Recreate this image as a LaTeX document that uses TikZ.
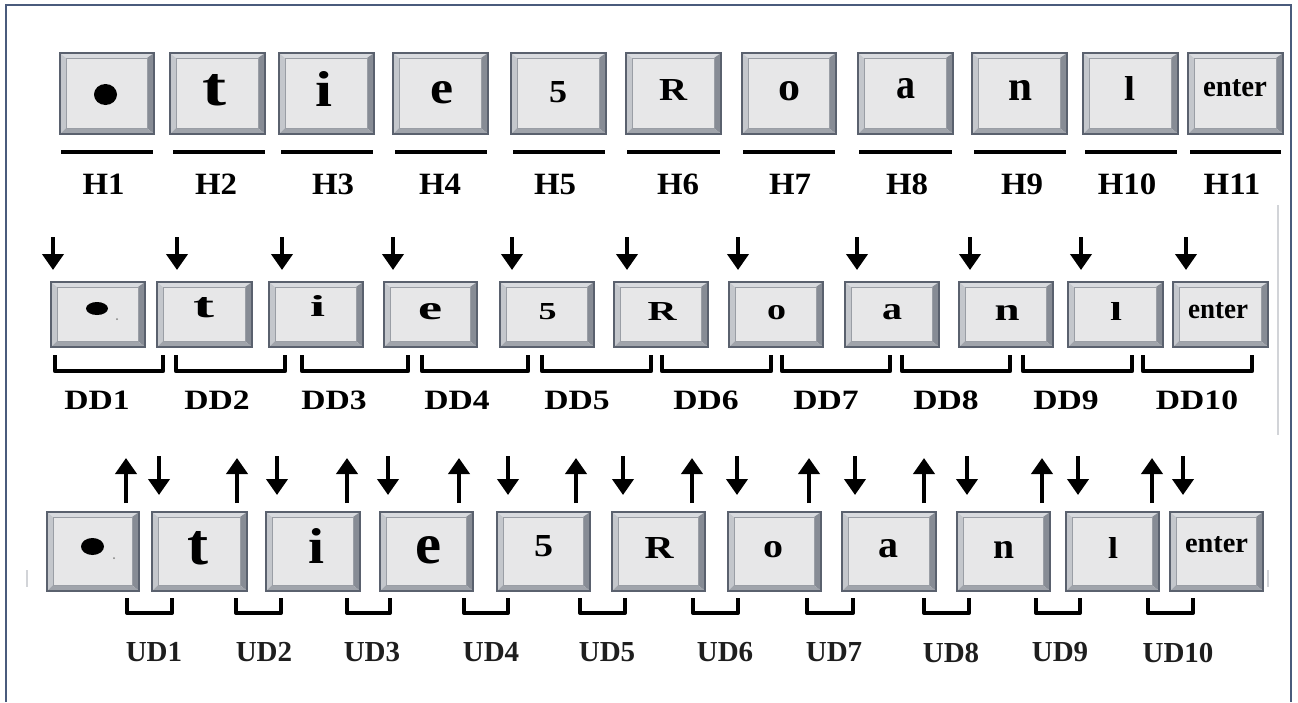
\documentclass[tikz,border=0pt]{standalone}
\usepackage{fontspec}
\setmainfont{Liberation Serif}
\usetikzlibrary{arrows.meta}

\definecolor{framecol}{HTML}{4A5B7C}
\definecolor{ghostcol}{HTML}{D2D4D8}
\definecolor{keyedge}{HTML}{5A616E}
\definecolor{keyface}{HTML}{E7E7E8}
\definecolor{bevtop}{HTML}{D9DBDF}
\definecolor{bevleft}{HTML}{C4C7CC}
\definecolor{bevright}{HTML}{878C95}
\definecolor{bevbot}{HTML}{A0A4AB}
\definecolor{faceedge}{HTML}{9A9EA5}
\definecolor{softblack}{HTML}{1E1E1E}

\tikzset{
  keyframe/.style={rectangle, draw=keyedge, line width=1.3pt, inner sep=0pt, outer sep=0pt},
  glyphtxt/.style={inner sep=0pt, outer sep=0pt, font=\bfseries},
  hlabel/.style={inner sep=0pt, font=\bfseries\fontsize{31}{31}\selectfont, xscale=1.06},
  ddlabel/.style={inner sep=0pt, font=\bfseries\fontsize{28}{28}\selectfont, xscale=1.2},
  udlabel/.style={inner sep=0pt, text=softblack, font=\bfseries\fontsize{29}{29}\selectfont},
  pressarrow/.style={line width=4.6pt, -{Triangle[width=21pt,length=16pt]}},
  bracketline/.style={line width=4.5pt, line join=round},
  keyrule/.style={line width=4.5pt},
  framerule/.style={draw=framecol, line width=1.6pt},
  ghostrule/.style={draw=ghostcol, line width=2pt},
}

% bevelled key: name, centre x, centre y, width, height, bevel
\newcommand\keycap[6]{%
  \pgfmathsetmacro\kcL{#2-#4/2}%
  \pgfmathsetmacro\kcR{#2+#4/2}%
  \pgfmathsetmacro\kcT{#3-#5/2}%
  \pgfmathsetmacro\kcB{#3+#5/2}%
  \pgfmathsetmacro\kcil{\kcL+#6}%
  \pgfmathsetmacro\kcir{\kcR-#6-1}%
  \pgfmathsetmacro\kcit{\kcT+#6-1}%
  \pgfmathsetmacro\kcib{\kcB-#6}%
  \fill[bevtop] (\kcL,\kcT) -- (\kcR,\kcT) -- (\kcir,\kcit) -- (\kcil,\kcit) -- cycle;
  \fill[bevleft] (\kcL,\kcT) -- (\kcil,\kcit) -- (\kcil,\kcib) -- (\kcL,\kcB) -- cycle;
  \fill[bevright] (\kcR,\kcT) -- (\kcR,\kcB) -- (\kcir,\kcib) -- (\kcir,\kcit) -- cycle;
  \fill[bevbot] (\kcL,\kcB) -- (\kcil,\kcib) -- (\kcir,\kcib) -- (\kcR,\kcB) -- cycle;
  \filldraw[fill=keyface, draw=faceedge, line width=0.8pt] (\kcil,\kcit) rectangle (\kcir,\kcib);
  \node[keyframe, minimum width=#4, minimum height=#5] (#1) at (#2,#3) {};
}

% key legend fitted to a given ink box: name, centre x, centre y, width, height, text
\newcommand\keyglyph[6]{%
  \node[glyphtxt] (#1) at (#2,#3) {\resizebox{#4pt}{#5pt}{#6}};
}

\begin{document}
\begin{tikzpicture}[x=1pt, y=-1pt]
\useasboundingbox (0,0) rectangle (1298,702);
\fill[white] (0,0) rectangle (1298,702);

% page frame
\draw[framerule] (6,702) -- (6,5) -- (1291,5) -- (1291,702);
\draw[ghostrule] (1278,205) -- (1278,435);
\draw[ghostrule] (27,570) -- (27,587);
\draw[ghostrule] (1268,570) -- (1268,587);

% ---------- row 1: hold times ----------
\foreach \n/\x/\w in {1/107/94, 2/217.5/95, 3/326.5/95, 4/440.5/95, 5/558.5/95,
                      6/673.5/95, 7/789/94, 8/905.5/95, 9/1019.5/95, 10/1130.5/95, 11/1235.5/95}
  {\keycap{ka\n}{\x}{93.5}{\w}{81}{6}}

\fill (105.5,94.5) ellipse [x radius=11.5, y radius=10.5];
\keyglyph{ga2}{214}{90.5}{24}{31}{t}
\keyglyph{ga3}{324}{88.5}{17}{35}{i}
\keyglyph{ga4}{441.5}{93}{23}{22}{e}
\keyglyph{ga5}{558}{92}{18}{21}{5}
\keyglyph{ga6}{673}{90}{28}{21}{R}
\keyglyph{ga7}{789.5}{91.5}{22}{19}{o}
\keyglyph{ga8}{905.5}{89}{19}{20}{a}
\keyglyph{ga9}{1020}{90}{24}{20}{n}
\keyglyph{ga10}{1129.5}{88}{11}{24}{l}
\keyglyph{ga11}{1235}{88.5}{64}{17}{enter}

\foreach \n/\a/\b in {1/61/153, 2/173/265, 3/281/373, 4/395/487, 5/513/605, 6/627/720,
                      7/743/835, 8/859/952, 9/974/1066, 10/1085/1177, 11/1190/1281}
  {\coordinate (ulA\n) at (\a,152);
   \coordinate (ulB\n) at (\b,152);
   \draw[keyrule] (ulA\n) -- (ulB\n);}

\foreach \n/\x in {1/103.5, 2/216, 3/333, 4/440, 5/555, 6/678, 7/790, 8/907, 9/1022, 10/1127, 11/1232}
  {\node[hlabel] (hl\n) at (\x,184.5) {H\n};}

% ---------- row 2: down-down times ----------
\foreach \n/\x/\w in {1/98/94, 2/204.5/95, 3/316/94, 4/430.5/93, 5/547/94, 6/661/94,
                      7/776/94, 8/892/94, 9/1006/94, 10/1115.5/95, 11/1220.5/95}
  {\keycap{kb\n}{\x}{314.5}{\w}{65}{6}}

\fill (97,308.5) ellipse [x radius=11, y radius=6.5];
\fill[gray] (117,319) circle [radius=1];
\keyglyph{gb2}{203.5}{308}{21}{20}{t}
\keyglyph{gb3}{317.5}{305.5}{15}{21}{i}
\keyglyph{gb4}{430}{312}{24}{16}{e}
\keyglyph{gb5}{547.5}{312}{18}{16}{5}
\keyglyph{gb6}{662}{311.5}{29}{18}{R}
\keyglyph{gb7}{776.5}{313}{19}{14}{o}
\keyglyph{gb8}{892}{312.5}{20}{15}{a}
\keyglyph{gb9}{1007}{312.5}{25}{15}{n}
\keyglyph{gb10}{1116}{311}{12}{18}{l}
\keyglyph{gb11}{1218}{310.5}{60}{16}{enter}

\foreach \n/\x in {1/53, 2/177, 3/282, 4/393, 5/512, 6/627, 7/738, 8/857, 9/970, 10/1081, 11/1186}
  {\coordinate (dwA\n) at (\x,237);
   \coordinate (dwB\n) at (\x,270);
   \draw[pressarrow] (dwA\n) -- (dwB\n);}

\foreach \n/\a/\b in {1/55/163, 2/176/285, 3/302/408, 4/422/528, 5/542/651,
                      6/662/771, 7/782/890, 8/902/1010, 9/1023/1132, 10/1143/1252}
  {\coordinate (ddA\n) at (\a,355);
   \coordinate (ddB\n) at (\b,355);
   \draw[bracketline] (ddA\n) -- ++(0,16) -| (ddB\n);}

\foreach \n/\x in {1/97, 2/217, 3/334, 4/457, 5/577, 6/706, 7/826, 8/946, 9/1066, 10/1197}
  {\node[ddlabel] (dl\n) at (\x,400) {DD\n};}

% ---------- row 3: up-down times ----------
\foreach \n/\x/\w in {1/93/92, 2/199.5/95, 3/313/94, 4/426.5/93, 5/543.5/93, 6/658.5/93,
                      7/774.5/93, 8/889/94, 9/1003.5/93, 10/1112.5/93, 11/1216.5/93}
  {\keycap{kc\n}{\x}{551.5}{\w}{79}{6}}

\fill (92.5,546.5) ellipse [x radius=11.5, y radius=8.5];
\fill[gray] (114,558) circle [radius=1];
\keyglyph{gc2}{198}{548.5}{21}{33}{t}
\keyglyph{gc3}{316.5}{545.5}{16}{35}{i}
\keyglyph{gc4}{428.5}{550.5}{26}{27}{e}
\keyglyph{gc5}{543.5}{546.5}{19}{21}{5}
\keyglyph{gc6}{659}{547.5}{29}{21}{R}
\keyglyph{gc7}{773}{550}{20}{16}{o}
\keyglyph{gc8}{888}{549}{20}{18}{a}
\keyglyph{gc9}{1003.5}{549.5}{21}{17}{n}
\keyglyph{gc10}{1113}{547.5}{10}{21}{l}
\keyglyph{gc11}{1216.5}{545}{63}{16}{enter}

\foreach \n/\x in {1/126, 2/237, 3/347, 4/459, 5/576, 6/692, 7/809, 8/924, 9/1042, 10/1152}
  {\coordinate (upA\n) at (\x,503);
   \coordinate (upB\n) at (\x,458);
   \draw[pressarrow] (upA\n) -- (upB\n);}

\foreach \n/\x in {1/159, 2/277, 3/388, 4/508, 5/623, 6/737, 7/855, 8/967, 9/1078, 10/1183}
  {\coordinate (dnA\n) at (\x,456);
   \coordinate (dnB\n) at (\x,495);
   \draw[pressarrow] (dnA\n) -- (dnB\n);}

\foreach \n/\a/\b in {1/127/172, 2/236/281, 3/347/390, 4/464/508, 5/580/625,
                      6/693/738, 7/807/853, 8/924/969, 9/1036/1080, 10/1148/1193}
  {\coordinate (udA\n) at (\a,598);
   \coordinate (udB\n) at (\b,598);
   \draw[bracketline, line width=4pt] (udA\n) -- ++(0,15) -| (udB\n);}

\foreach \n/\x in {1/154, 2/264, 3/372, 4/491, 5/607, 6/725, 7/834, 8/951, 9/1060, 10/1178}
  {\node[udlabel] (ul\n) at (\x,652.5) {UD\n};}

\end{tikzpicture}
\end{document}
